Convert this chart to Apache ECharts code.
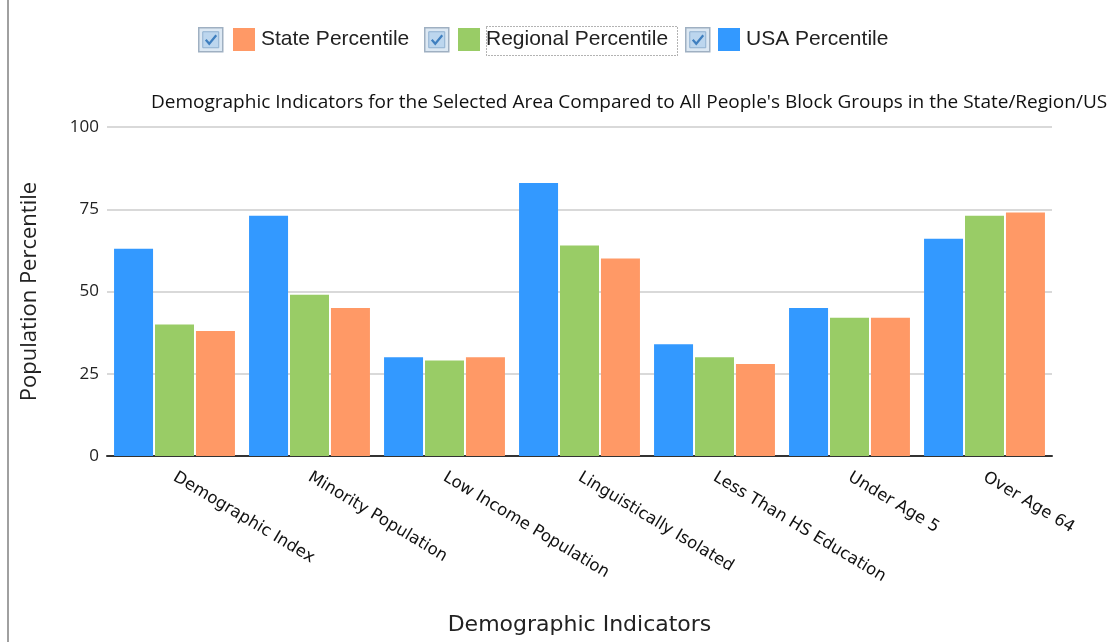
<!DOCTYPE html>
<html>
<head>
<meta charset="utf-8">
<script src="https://cdn.jsdelivr.net/npm/echarts@6/dist/echarts.min.js"></script>
<style>
  html, body { margin: 0; padding: 0; background: #fff; }
  #chart { width: 1108px; height: 642px; }
</style>
</head>
<body>
<div id="chart"></div>
<script>
const categories = ['Demographic Index', 'Minority Population', 'Low Income Population',
  'Linguistically Isolated', 'Less Than HS Education', 'Under Age 5', 'Over Age 64']
const usaValues = [63, 73, 30, 83, 34, 45, 66]
const regionalValues = [40, 49, 29, 64, 30, 42, 73]
const stateValues = [38, 45, 30, 60, 28, 42, 74]
const yTicks = [0, 25, 50, 75, 100]

const colors = { usa: '#3399ff', regional: '#99cc66', state: '#ff9966' }

// little checkbox like the ones in the original page
const checkbox = (x) => ({
  type: 'group',
  left: x,
  top: 27,
  children: [
    { type: 'rect', shape: { x: 0, y: 0, width: 24, height: 24 }, style: { fill: '#dce8f3', stroke: '#9fb0c2', lineWidth: 1.5 } },
    { type: 'rect', shape: { x: 4, y: 4, width: 16, height: 16 }, style: { fill: '#bcd6ee', stroke: '#8fb0d0', lineWidth: 1 } },
    { type: 'polyline', shape: { points: [[7, 12], [10.5, 16], [17.5, 7.5]] }, style: { stroke: '#3f7fbf', lineWidth: 2.2, fill: null } }
  ]
})

const legendBase = {
  top: 23,
  itemWidth: 22,
  itemHeight: 23,
  itemGap: 6,
  icon: 'rect',
  textStyle: { fontFamily: 'Liberation Sans', fontSize: 21, color: '#222', padding: [0, 0, 0, 1] }
}

const option = {
  backgroundColor: '#fff',
  title: {
    text: "Demographic Indicators for the Selected Area Compared to All People's Block Groups in the State/Region/US",
    left: 146,
    top: 88,
    textStyle: { fontFamily: 'Open Sans', fontWeight: 'normal', fontSize: 19, color: '#111' }
  },
  legend: [
    { ...legendBase, left: 228, data: ['State Percentile'] },
    { ...legendBase, left: 453, data: ['Regional Percentile'] },
    { ...legendBase, left: 713, data: ['USA Percentile'] }
  ],
  graphic: [
    { type: 'line', shape: { x1: 8, y1: 0, x2: 8, y2: 642 }, style: { stroke: '#a0a0a0', lineWidth: 2 } },
    checkbox(198),
    checkbox(424),
    checkbox(685),
    { type: 'rect', left: 484, top: 24, shape: { x: 0, y: 0, width: 191, height: 29 }, style: { fill: null, stroke: '#666', lineWidth: 1, lineDash: [1, 2] } }
  ],
  grid: { left: 107, right: 56, top: 127, bottom: 186 },
  xAxis: {
    type: 'category',
    data: categories,
    name: 'Demographic Indicators',
    nameLocation: 'middle',
    nameGap: 158,
    nameTextStyle: { fontFamily: 'DejaVu Sans', fontSize: 22, color: '#222' },
    axisLine: { lineStyle: { color: '#333', width: 2 } },
    axisTick: { show: false },
    axisLabel: {
      interval: 0,
      rotate: -31,
      margin: 20,
      fontFamily: 'DejaVu Sans',
      fontSize: 16.5,
      color: '#111'
    }
  },
  yAxis: {
    type: 'value',
    min: yTicks[0],
    max: yTicks[yTicks.length - 1],
    interval: 25,
    name: 'Population Percentile',
    nameLocation: 'middle',
    nameGap: 66,
    nameTextStyle: { fontFamily: 'Open Sans', fontSize: 22, color: '#222' },
    axisLine: { show: false },
    axisTick: { show: false },
    axisLabel: { margin: 8, fontFamily: 'Open Sans', fontSize: 17, color: '#222' },
    splitLine: { lineStyle: { color: '#d9d9d9', width: 2 } }
  },
  series: [
    { name: 'USA Percentile', type: 'bar', data: usaValues, barWidth: 39, barGap: '5%', itemStyle: { color: colors.usa } },
    { name: 'Regional Percentile', type: 'bar', data: regionalValues, barWidth: 39, barGap: '5%', itemStyle: { color: colors.regional } },
    { name: 'State Percentile', type: 'bar', data: stateValues, barWidth: 39, barGap: '5%', itemStyle: { color: colors.state } }
  ]
}

const chart = echarts.init(document.getElementById('chart'))
chart.setOption(option)
</script>
</body>
</html>
